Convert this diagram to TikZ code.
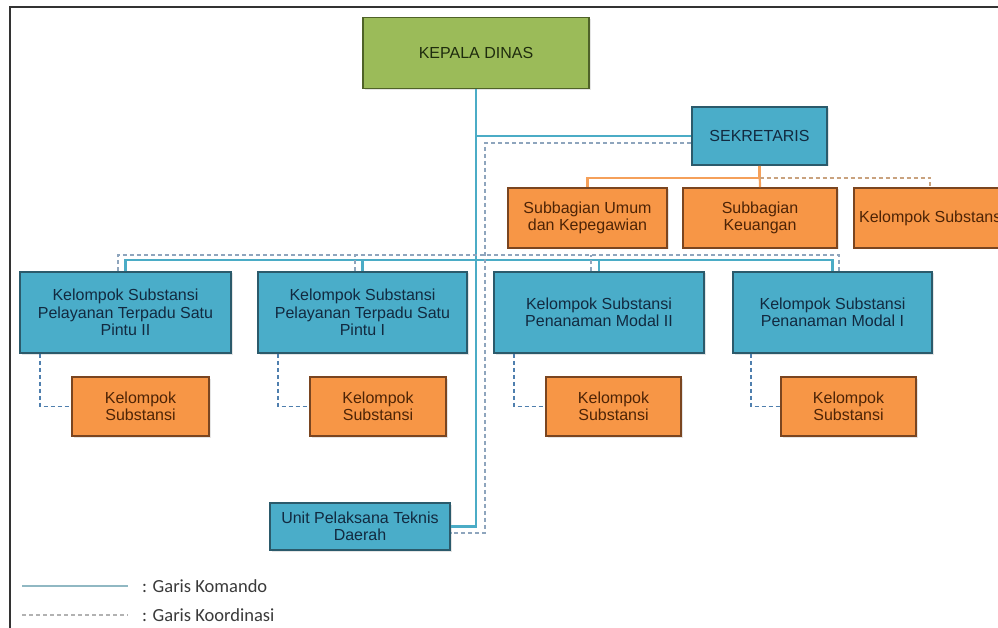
\documentclass[tikz,border=0pt]{standalone}
\usepackage{fontspec}
\usetikzlibrary{shadows}
\setmainfont{Liberation Sans}
\newfontfamily\legfont{Carlito}
\definecolor{kgreen}{HTML}{9BBB59}
\definecolor{kgreenb}{HTML}{4F6228}
\definecolor{kgreent}{HTML}{1F2C0E}
\definecolor{kblue}{HTML}{4AADC9}
\definecolor{kblueb}{HTML}{2B5A6B}
\definecolor{kbluet}{HTML}{122A40}
\definecolor{korange}{HTML}{F79646}
\definecolor{korangeb}{HTML}{7A4520}
\definecolor{korangt}{HTML}{4E2406}
\definecolor{kline}{HTML}{4BACC6}
\definecolor{kdash}{HTML}{8EA5BD}
\definecolor{kdashd}{HTML}{4F7FAE}
\definecolor{oline}{HTML}{F5A05A}
\definecolor{odash}{HTML}{C9A27E}
\definecolor{legc}{HTML}{3A3A3A}
\begin{document}
\begin{tikzpicture}[x=1pt,y=-1pt,
  box/.style={draw, line width=1.8pt, align=center, inner sep=2pt,
    font=\fontsize{16}{17.5}\selectfont,
    drop shadow={opacity=0.2, shadow xshift=1.5pt, shadow yshift=-1.5pt}},
  gbox/.style={box, fill=kgreen, draw=kgreenb, text=kgreent},
  bbox/.style={box, fill=kblue, draw=kblueb, text=kbluet},
  obox/.style={box, fill=korange, draw=korangeb, text=korangt},
  kom/.style={draw=kline, line width=2.5pt},
  kor/.style={draw=kdash, line width=1.6pt, dash pattern=on 4pt off 3pt},
  kord/.style={draw=kdashd, line width=1.8pt, dash pattern=on 4pt off 3pt},
  ors/.style={draw=oline, line width=2.2pt},
  ord/.style={draw=odash, line width=1.6pt, dash pattern=on 4pt off 3pt},
  legtext/.style={anchor=west, text=legc, inner sep=0pt,
    font=\legfont\fontsize{18.5}{20}\selectfont},
]
\useasboundingbox (0,0) rectangle (998,628);
\clip (0,0) rectangle (998,628);
\fill[white] (0,0) rectangle (998,628);
% frame
\draw[line width=1.6pt, black!80] (10,628) -- (10,7) -- (998,7);

% nodes
\node[gbox, minimum width=226pt, minimum height=71pt] (kd) at (476,53) {KEPALA DINAS};
\node[bbox, minimum width=135pt, minimum height=58pt] (sek) at (759.5,136) {SEKRETARIS};
\node[obox, minimum width=159pt, minimum height=60pt] (sub1) at (587.5,218) {Subbagian Umum\\dan Kepegawian};
\node[obox, minimum width=154pt, minimum height=60pt] (sub2) at (760,218) {Subbagian\\Keuangan};
\node[obox, minimum width=156pt, minimum height=60pt] (sub3) at (932,218) {Kelompok Substansi};

\node[bbox, minimum width=211pt, minimum height=81pt] (c1) at (125.5,312.5) {Kelompok Substansi\\Pelayanan Terpadu Satu\\Pintu II};
\node[bbox, minimum width=209pt, minimum height=81pt] (c2) at (362.5,312.5) {Kelompok Substansi\\Pelayanan Terpadu Satu\\Pintu I};
\node[bbox, minimum width=210pt, minimum height=81pt] (c3) at (599,312.5) {Kelompok Substansi\\Penanaman Modal II};
\node[bbox, minimum width=199pt, minimum height=81pt] (c4) at (832.5,312.5) {Kelompok Substansi\\Penanaman Modal I};

\node[obox, minimum width=137pt, minimum height=59pt] (k1) at (140.5,406.5) {Kelompok\\Substansi};
\node[obox, minimum width=136pt, minimum height=59pt] (k2) at (378,406.5) {Kelompok\\Substansi};
\node[obox, minimum width=135pt, minimum height=59pt] (k3) at (613.5,406.5) {Kelompok\\Substansi};
\node[obox, minimum width=135pt, minimum height=59pt] (k4) at (848.5,406.5) {Kelompok\\Substansi};

\node[bbox, minimum width=180pt, minimum height=47pt] (upt) at (360,526.5) {Unit Pelaksana Teknis\\Daerah};

% coordinates for buses
\coordinate (busS) at (125.5,260);
\coordinate (busD) at (118,255);
\coordinate (dv) at (485,143);

% command lines (solid)
\draw[kom] (kd.south) |- (upt.east);
\draw[kom] (kd.south |- sek.west) -- (sek.west);
\draw[kom] (c1.north) -- (busS) -| (c4.north);
\draw[kom] (c2.north) -- (c2.north |- busS);
\draw[kom] (c3.north) -- (c3.north |- busS);

% coordination lines (dashed)
\draw[kor] ([yshift=-7pt]sek.west) -- (dv) |- ([yshift=-6.5pt]upt.east);
\draw[kor] ([xshift=-7.5pt]c1.north) -- (busD) -| ([xshift=6.5pt]c4.north);
\draw[kor] ([xshift=-7.5pt]c2.north) -- ([xshift=-7.5pt]c2.north |- busD);
\draw[kor] ([xshift=-8pt]c3.north) -- ([xshift=-8pt]c3.north |- busD);

\draw[kord] ([xshift=21pt]c1.south west) |- (k1.west);
\draw[kord] ([xshift=21pt]c2.south west) |- (k2.west);
\draw[kord] ([xshift=21pt]c3.south west) |- (k3.west);
\draw[kord] ([xshift=19pt]c4.south west) |- (k4.west);

% secretariat lines
\draw[ors] (sek.south) -- ++(0,12) -| (sub1.north);
\draw[ors] (sek.south) -- (sub2.north);
\draw[ord] (sek.south) ++(0,12) -| ([xshift=-2pt]sub3.north);

% legend
\coordinate (la) at (22,586);
\coordinate (lb) at (128,586);
\coordinate (lc) at (22,615);
\coordinate (ld) at (128,615);
\draw[draw=kline!60!gray!70, line width=1.8pt] (la) -- (lb);
\draw[draw=gray!60, line width=1.6pt, dash pattern=on 4pt off 3pt] (lc) -- (ld);
\node[legtext] (lk) at (142,586) {: Garis Komando};
\node[legtext] (lo) at (142,615) {: Garis Koordinasi};
\end{tikzpicture}
\end{document}
